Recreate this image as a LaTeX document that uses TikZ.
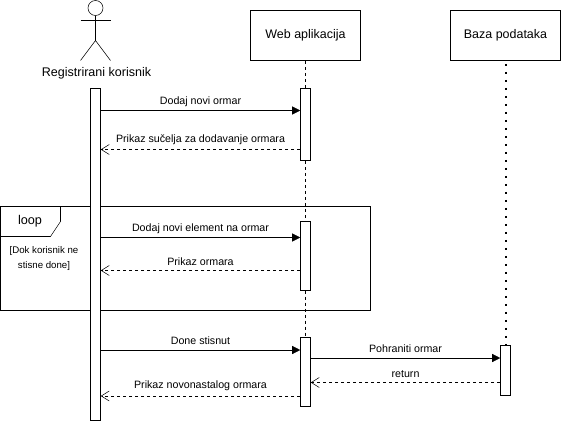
\documentclass[tikz,border=0pt]{standalone}
\usepackage{fontspec}
\setmainfont{Liberation Sans}
\usetikzlibrary{arrows.meta}
\tikzset{
  x=0.75pt,y=-0.75pt,
  line width=0.75pt,
  box/.style={draw,fill=white,minimum width=82.5pt,minimum height=37.5pt,inner sep=0pt,font=\fontsize{9.35}{11}\selectfont},
  actbar/.style={draw,fill=white,minimum width=7.5pt,inner sep=0pt},
  call/.style={-{Triangle[length=6pt,width=6pt]}},
  reply/.style={dashed,dash pattern=on 2.25pt off 2.25pt,-{Straight Barb[length=6pt,width=7.5pt]}},
  life/.style={dash pattern=on 2.25pt off 2.25pt},
  dots/.style={dash pattern=on 1.5pt off 4.5pt,line width=1.5pt},
  lbl/.style={font=\fontsize{8}{10}\selectfont,inner sep=0pt},
}
\begin{document}
\begin{tikzpicture}
\useasboundingbox (0,0) rectangle (561,421);
% actor
\node[draw,circle,minimum size=11.25pt,inner sep=0pt] (head) at (95.5,8) {};
\coordinate (hip) at (95.5,40.5);
\coordinate (larm) at (80.5,20.5);
\coordinate (rarm) at (110.5,20.5);
\coordinate (lfoot) at (80.5,60.5);
\coordinate (rfoot) at (110.5,60.5);
\draw (head.south) -- (hip);
\draw (larm) -- (rarm);
\draw (lfoot) -- (hip) -- (rfoot);
\node[font=\fontsize{9.4}{11}\selectfont,inner sep=0pt] (actor) at (96.5,73.5) {Registrirani korisnik};
% boxes
\node[box] (web) at (305.5,35.5) {Web aplikacija};
\node[box] (db) at (505.5,35.5) {Baza podataka};
% frame
\node[draw,minimum width=277.5pt,minimum height=78pt,inner sep=0pt] (frame) at (185.5,258.5) {};
\coordinate (t1) at (60.5,206.5);
\coordinate (t2) at (60.5,221.5);
\coordinate (t3) at (50.5,236.5);
\coordinate (t4) at (0.5,236.5);
\draw (t1) -- (t2) -- (t3) -- (t4);
\node[font=\fontsize{9.5}{11}\selectfont,inner sep=0pt] (looplbl) at (30,221.5) {loop};
\node[font=\fontsize{7.25}{11.25}\selectfont,align=center,inner sep=0pt] (guard) at (44,258) {[Dok korisnik ne\\stisne done]};
% activations
\node[actbar,minimum height=249pt] (a1) at (95.5,254.5) {};
\node[actbar,minimum height=54pt] (a2) at (305.5,124.5) {};
\node[actbar,minimum height=52pt] (a3) at (305.5,255.7) {};
\node[actbar,minimum height=52pt] (a4) at (305.5,371.7) {};
\node[actbar,minimum height=37.5pt] (a5) at (505.5,370.5) {};
% lifelines
\draw[life] (web.south) -- (a2.north);
\draw[life] (a2.south) -- (a3.north);
\draw[life] (a3.south) -- (a4.north);
\draw[dots] (db.south) ++(0,3) -- (a5.north);
% messages
\draw[call] (a1.east |- 0,110.5) -- node[lbl,above=2.5pt,pos=.5] (m1) {Dodaj novi ormar} (a2.west |- 0,110.5);
\draw[reply] (a2.west |- 0,149.5) -- node[lbl,above=3.5pt] (m2) {Prikaz sučelja za dodavanje ormara} (a1.east |- 0,149.5);
\draw[call] (a1.east |- 0,237.5) -- node[lbl,above=2.5pt] (m3) {Dodaj novi element na ormar} (a3.west |- 0,237.5);
\draw[reply] (a3.west |- 0,270.5) -- node[lbl,above=3.5pt] (m4) {Prikaz ormara} (a1.east |- 0,270.5);
\draw[call] (a1.east |- 0,350) -- node[lbl,above=3.5pt] (m5) {Done stisnut} (a4.west |- 0,350);
\draw[call] (a4.east |- 0,358) -- node[lbl,above=3.5pt] (m6) {Pohraniti ormar} (a5.west |- 0,358);
\draw[reply] (a5.west |- 0,382.5) -- node[lbl,above=3.5pt] (m7) {return} (a4.east |- 0,382.5);
\draw[reply] (a4.west |- 0,396) -- node[lbl,above=3.5pt] (m8) {Prikaz novonastalog ormara} (a1.east |- 0,396);
\end{tikzpicture}
\end{document}
